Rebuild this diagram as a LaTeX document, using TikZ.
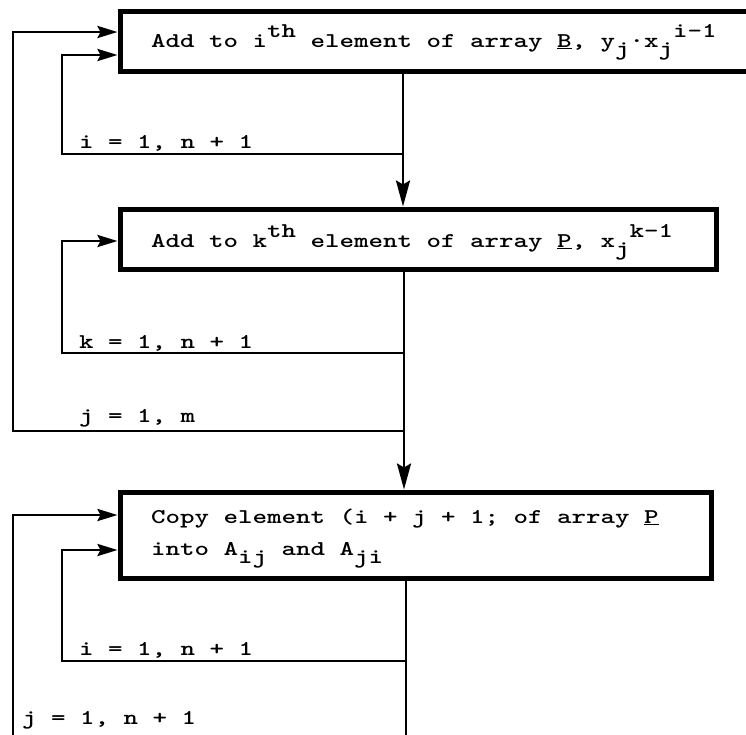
\documentclass[tikz,border=0pt]{standalone}
\usepackage{graphicx}
\usetikzlibrary{arrows.meta}
% typewriter text: widened Latin Modern Mono
\newcommand\tw[1]{\scalebox{1.315}[1]{\fontsize{21}{25}\selectfont\ttfamily\bfseries #1}}
\newcommand\hi[1]{\raisebox{10pt}{#1}}
\newcommand\lo[1]{\raisebox{-8pt}{#1}}
\tikzset{
  box/.style={draw, line width=5pt, rectangle, inner sep=0pt},
  txt/.style={inner sep=0pt, anchor=base west},
  conn/.style={line width=2.8pt},
  harr/.style={conn, -{Stealth[length=20pt,width=12pt,inset=3pt]}},
  varr/.style={conn, -{Stealth[length=26pt,width=14pt,inset=4pt]}},
}
\begin{document}
\begin{tikzpicture}[x=1pt,y=-1pt]
\useasboundingbox (0,0) rectangle (746,734);
\clip (0,0) rectangle (746,734);
\fill[white] (0,0) rectangle (746,734);

% process boxes
\node[box, minimum width=640pt, minimum height=60pt] (b1) at (440,41) {};
\node[box, minimum width=596pt, minimum height=60pt] (b2) at (418,239) {};
\node[box, minimum width=591pt, minimum height=86pt] (b3) at (415.5,535) {};

% box texts
\node[txt] (t1) at (151,47) {\tw{Add to i\hi{th} element of array \underline{B}, y\lo{j}·x\lo{j}\hi{i-1}}};
\node[txt] (t2) at (151,247) {\tw{Add to k\hi{th} element of array \underline{P}, x\lo{j}\hi{k-1}}};
\node[txt] (t3) at (151,523) {\tw{Copy element (i + j + 1; of array \underline{P}}};
\node[txt] (t4) at (151,555) {\tw{into A\lo{ij} and A\lo{ji}}};

% loop labels
\node[txt] (l1) at (79,148) {\tw{i = 1, n + 1}};
\node[txt] (l2) at (79,348) {\tw{k = 1, n + 1}};
\node[txt] (l3) at (79,422) {\tw{j = 1, m}};
\node[txt] (l4) at (79,655) {\tw{i = 1, n + 1}};
\node[txt] (l5) at (22,724) {\tw{j = 1, n + 1}};

% junctions on the main line and loop corners
\coordinate (ia) at (403,154);
\coordinate (ka) at (404,353);
\coordinate (ja) at (404,431);
\coordinate (ib) at (406,661);
\coordinate (jb) at (406,744);
\coordinate (ob) at (13,744);
\coordinate (c1) at (62,55);
\coordinate (c2) at (13,32);
\coordinate (c3) at (62,241);
\coordinate (c4) at (62,550);
\coordinate (c5) at (13,515);

% main line
\draw[varr] (b1.south -| ia) -- (b2.north -| ia);
\draw[varr] (b2.south -| ka) -- (b3.north -| ka);
\draw[conn] (b3.south -| ib) -- (jb);

% loops
\draw[harr] (ia) -| (c1) -- (c1 -| b1.west);
\draw[harr] (ja) -| (c2) -- (c2 -| b1.west);
\draw[harr] (ka) -| (c3) -- (c3 -| b2.west);
\draw[harr] (ib) -| (c4) -- (c4 -| b3.west);
\draw[harr] (ob) -- (c5) -- (c5 -| b3.west);
\end{tikzpicture}
\end{document}
